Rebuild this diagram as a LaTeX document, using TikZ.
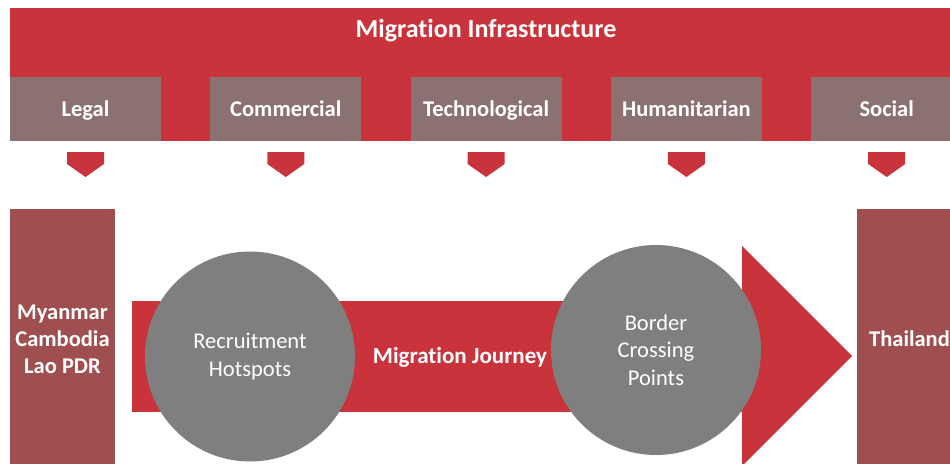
\documentclass[tikz,border=0pt]{standalone}
\usepackage{fontspec}
\setmainfont{Carlito}[Ligatures=NoCommon]
\definecolor{mred}{HTML}{C9333C}
\definecolor{mgray}{HTML}{8C7172}
\definecolor{mbrown}{HTML}{A04F50}
\definecolor{mcirc}{HTML}{7F7F7F}
\begin{document}
\begin{tikzpicture}[x=1pt,y=-1pt,
  band/.style={fill=mred,draw=none},
  catbox/.style={fill=mgray,draw=none,minimum width=151pt,minimum height=64pt,inner sep=0pt},
  catlabel/.style={anchor=base,inner sep=0pt,text=white,font=\fontsize{22.5}{26}\selectfont\bfseries},
  country/.style={fill=mbrown,draw=none,minimum width=105pt,minimum height=260pt,inner sep=0pt,text=white,align=center,font=\fontsize{22.5}{27}\selectfont\bfseries},
  hub/.style={circle,fill=mcirc,draw=none,minimum size=210pt,inner sep=0pt,text=white,align=center,font=\fontsize{22.5}{27.5}\selectfont},
  chev/.style={fill=mred,draw=none}]
\clip (0,0) rectangle (950,463);
\fill[white] (0,0) rectangle (950,463);
% top band
\fill[band] (10,8) rectangle (962,141);
\node[anchor=base,inner sep=0pt,text=white,font=\fontsize{26}{30}\selectfont\bfseries] (title) at (486,37) {Migration Infrastructure};
% category boxes
\foreach \i/\t/\n in {0/Legal/legal,1/Commercial/comm,2/Technological/tech,3/Humanitarian/hum,4/Social/soc}{
  \node[catbox] (\n) at (85.5+200.3*\i,109) {};
  \node[catlabel] (\n-t) at (85.5+200.3*\i,116) {\t};
  \fill[chev] (67+200.3*\i,152) -- (104+200.3*\i,152) -- (104+200.3*\i,164) -- (85.5+200.3*\i,177) -- (67+200.3*\i,164) -- cycle;
}
% country boxes
\node[country] (src) at (62.5,339) {Myanmar\\Cambodia\\Lao PDR};
\node[country] (dst) at (909.5,339) {Thailand};
% arrow
\fill[band] (132,301) rectangle (746,412);
\fill[band] (742,246) -- (852,356) -- (742,466) -- cycle;
\node[anchor=base,inner sep=0pt,text=white,font=\fontsize{23}{26}\selectfont\bfseries] (journey) at (460,363) {Migration Journey};
% circles
\node[hub] (recruit) at (250,356.5) {Recruitment\\Hotspots};
\node[hub] (border) at (656,350) {Border\\Crossing\\Points};
\end{tikzpicture}
\end{document}
